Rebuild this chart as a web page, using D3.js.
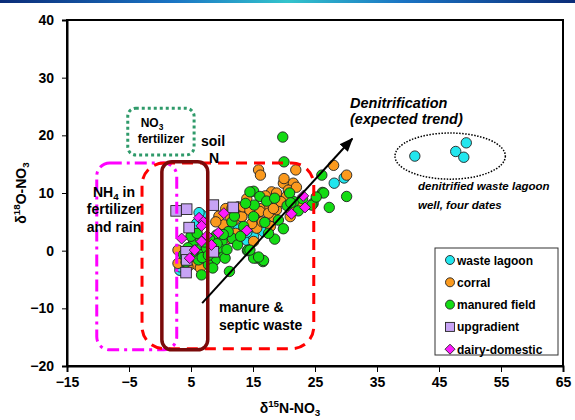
<!DOCTYPE html>
<html><head><meta charset="utf-8">
<script src="https://cdn.jsdelivr.net/npm/d3@7"></script>
<style>body{margin:0;background:#fff;} svg{display:block;font-family:"Liberation Sans",Arial,sans-serif;}</style>
</head><body><svg id="c" width="575" height="420"></svg>
<script>
const xTicks=[-15,-5,5,15,25,35,45,55,65];
const yTicks=[-20,-10,0,10,20,30,40];
const seriesNames=["waste lagoon","corral","manured field","upgradient","dairy-domestic"];
const seriesColors=["#22e6ee","#fb9a1e","#14dc14","#c7a3f5","#ff1aff"];
const seriesShapes=["circle","circle","circle","square","diamond"];

const wasteLagoon=[[41.1,16.4],[47.7,17.2],[49.4,18.7],[49.0,16.2],
 [28.1,11.7],[29.7,12.6],[14.8,2.7],[14.0,1.8],[15.1,2.4],[16.7,3.9],[16.7,3.3],[11.8,3.6],
 [6.7,6.2],[6.3,6.6],[13.2,5.9],[14.0,3.2],[3.2,-3.4],[3.2,-2.8],[5.9,4.7],[12.5,4.5]];
const corral=[[15.9,14.0],[16.2,13.1],[21.9,14.0],[28.0,14.8],[30.1,13.1],[19.9,11.7],[21.5,11.7],
 [20.7,10.5],[20.4,9.4],[18.0,10.2],[18.8,10.0],[17.5,7.6],[16.1,7.3],[12.9,7.0],[12.0,5.3],
 [18.3,5.9],[15.6,3.9],[11.3,2.1],[2.9,-2.2],[5.9,-2.4],[10.6,7.3],[11.6,7.3],[12.6,7.6],
 [11.3,5.9],[13.2,5.9],[18.8,7.1],[13.4,7.6],[14.5,7.0],[16.1,6.8],[17.5,6.5],[18.3,7.3],
 [15.3,5.6],[14.8,4.7],[15.1,1.6],[21.0,5.9],[21.2,6.8],[2.9,0.1],[19.5,8.5],[17.0,9.5],
 [22.0,11.0],[20.0,12.5],[14.0,9.0],[13.5,3.5],[16.5,5.0],[17.8,4.2],[12.2,3.0],[10.2,4.5],
 [9.5,6.0],[8.2,-1.5],[6.5,-3.0],[4.5,-2.8],[7.5,0.5],[9.0,5.0],[22.6,8.5]];
const manuredField=[[19.8,19.7],[20.0,15.4],[26.1,13.1],[26.2,10.1],[27.3,7.5],[24.7,8.2],[21.6,8.5],
 [18.5,2.0],[15.6,-1.3],[16.6,-1.9],[14.1,0.0],[11.2,-3.6],[6.7,-4.2],[15.1,10.3],[16.1,9.4],
 [15.2,7.9],[20.9,10.0],[22.3,6.9],[24.5,7.9],[26.4,10.0],[30.1,9.4],[15.1,5.9],[16.9,4.9],
 [19.1,5.3],[14.2,0.1],[15.1,-1.3],[16.7,-1.7],[14.5,10.2],[11.6,5.0],[11.7,2.1],[14.5,0.1],
 [15.9,-1.1],[10.0,1.6],[9.7,-0.5],[8.5,0.8],[8.9,-1.6],[5.4,1.4],[5.9,0.1],[7.0,-0.5],
 [4.8,-1.1],[6.2,-1.6],[7.5,0.4],[9.1,2.7],[6.5,2.1],[10.5,-1.3],[7.8,-2.4],[11.0,3.3],
 [3.8,-0.7],[4.5,0.5],[5.0,2.5],[6.0,3.0],[7.2,1.5],[8.0,2.0],[8.8,-0.2],[9.5,0.5],[10.8,0.2],
 [6.8,-1.2],[5.2,-0.3],[7.8,-0.8],[9.2,1.2],[10.2,2.8],[12.5,1.0],[13.0,2.5],[12.0,6.0],
 [13.8,8.2],[17.5,3.0],[19.9,3.8],[20.5,7.8],[23.0,9.0],[25.2,9.3],[17.2,8.6],[18.5,9.1],
 [13.5,4.2],[4.2,-2.0],[8.5,-3.0],[21.1,8.3]];
const upgradient=[[2.6,6.9],[4.3,7.2],[8.6,7.9],[11.8,7.5],[4.7,4.0],[4.2,-0.2],[4.3,-1.6],[4.2,-3.8],[8.6,-0.2]];
const dairyDomestic=[[6.3,5.7],[7.0,5.0],[6.7,4.3],[3.5,2.1],[9.4,3.1],[6.7,1.6],[5.6,0.1],[4.8,-1.3],
 [8.3,1.0],[10.3,6.5],[14.0,3.5],[23.1,9.5],[23.4,7.5],[21.2,6.4],[7.6,2.6]];
const seriesData=[wasteLagoon,corral,manuredField,upgradient,dairyDomestic];

// annotation regions in data units: [x0,y0,x1,y1]
const no3Box=[-5.2,24.7,5.5,16.6];
const nh4Box=[-10.2,15.2,2.7,-17.2];
const manureBox=[-2.9,15.2,24.8,-17.0];
const soilBox=[0.3,15.4,7.7,-17.2];
const trend=[[6.8,-9.1],[31.0,19.4]];
const lagoonEllipse=[46.8,16.4,8.9,4.0]; // cx, cy, rx, ry

const svg=d3.select("#c");
const x=d3.scaleLinear().domain([-15,65]).range([67,563]);
const y=d3.scaleLinear().domain([-20,40]).range([366,20]);

// top header strip
const defs=svg.append("defs");
const g=defs.append("linearGradient").attr("id","hdr");
[[0,"#0b2c78"],[0.3,"#1a74c4"],[0.5,"#33c4cc"],[0.7,"#1a74c4"],[1,"#0b2c78"]].forEach(s=>g.append("stop").attr("offset",s[0]).attr("stop-color",s[1]));
svg.append("rect").attr("x",0).attr("y",0).attr("width",575).attr("height",3).attr("fill","url(#hdr)");

defs.append("marker").attr("id","arr").attr("viewBox","0 0 10 10").attr("refX",9).attr("refY",5)
 .attr("markerWidth",7).attr("markerHeight",7).attr("orient","auto")
 .append("path").attr("d","M0,1 L10,5 L0,9 Z").attr("fill","#000");

// plot frame
svg.append("rect").attr("x",x(-15)).attr("y",y(40)).attr("width",x(65)-x(-15)).attr("height",y(-20)-y(40))
 .attr("fill","none").attr("stroke","#000").attr("stroke-width",2);

const ax=svg.append("g").attr("transform",`translate(0,${y(-20)})`)
 .call(d3.axisBottom(x).tickValues(xTicks).tickSize(6).tickPadding(5).tickFormat(d3.format("d")));
const ay=svg.append("g").attr("transform",`translate(${x(-15)},0)`)
 .call(d3.axisLeft(y).tickValues(yTicks).tickSize(5).tickPadding(8).tickFormat(d3.format("d")));
[ax,ay].forEach(a=>{a.select(".domain").attr("stroke","#000").attr("stroke-width",2);
 a.selectAll(".tick line").attr("stroke","#000").attr("stroke-width",1);
 a.selectAll("text").attr("font-size",14).attr("font-weight","bold").attr("fill","#000")
  .style("font-family","'Liberation Sans',Arial,sans-serif");});

// points
function drawSym(sel,shape,color){
 if(shape==="circle") sel.append("circle").attr("r",5.2);
 else if(shape==="square") sel.append("rect").attr("x",-5.3).attr("y",-5.3).attr("width",10.6).attr("height",10.6);
 else sel.append("path").attr("d","M0,-5.5 L5.5,0 L0,5.5 L-5.5,0 Z");
 sel.selectAll("*").attr("fill",color).attr("stroke","#222").attr("stroke-width",0.9);
}
seriesData.forEach((arr,i)=>{
 svg.append("g").selectAll("g").data(arr).join("g")
  .attr("transform",d=>`translate(${x(d[0])},${y(d[1])})`)
  .each(function(){drawSym(d3.select(this),seriesShapes[i],seriesColors[i]);});
});

// annotation shapes
function rbox(b,r,stroke,w,dash){
 svg.append("rect").attr("x",x(b[0])).attr("y",y(b[1])).attr("width",x(b[2])-x(b[0])).attr("height",y(b[3])-y(b[1]))
  .attr("rx",r).attr("fill","none").attr("stroke",stroke).attr("stroke-width",w).attr("stroke-dasharray",dash);
}
rbox(nh4Box,13,"#ff00ff",3,"12,5,3,5");
rbox(manureBox,22,"#ff0000",3,"11,7");
rbox(soilBox,10,"#7a0a0a",3.5,null);
rbox(no3Box,8,"#2f9a6a",3,"3,3");

svg.append("ellipse").attr("cx",x(lagoonEllipse[0])).attr("cy",y(lagoonEllipse[1]))
 .attr("rx",x(lagoonEllipse[0]+lagoonEllipse[2])-x(lagoonEllipse[0]))
 .attr("ry",y(lagoonEllipse[1]-lagoonEllipse[3])-y(lagoonEllipse[1]))
 .attr("fill","none").attr("stroke","#000").attr("stroke-width",1.5).attr("stroke-dasharray","1.5,1.5");

svg.append("line").attr("x1",x(trend[0][0])).attr("y1",y(trend[0][1])).attr("x2",x(trend[1][0])).attr("y2",y(trend[1][1]))
 .attr("stroke","#000").attr("stroke-width",2).attr("marker-end","url(#arr)");

// texts
function txt(tx,ty,s,opt={}){
 const t=svg.append("text").attr("x",tx).attr("y",ty).attr("font-size",opt.size||14).attr("font-weight","bold")
  .attr("font-style",opt.italic?"italic":"normal").attr("text-anchor",opt.anchor||"start").attr("fill","#000");
 if(Array.isArray(s)) s.forEach(p=>{const ts=t.append("tspan").text(p[0]);
   if(p[1]==="sub") ts.attr("font-size",(opt.size||14)*0.7).attr("dy",3);
   else if(p[1]==="sup") ts.attr("font-size",(opt.size||14)*0.7).attr("dy",-6);
   else if(p[1]==="back") ts.attr("dy",-3);
   else if(p[1]==="down") ts.attr("dy",6);});
 else t.text(s);
 return t;
}
txt(152,127,[["NO"],["3","sub"]],{size:12,anchor:"middle"});
txt(161,143,"fertilizer",{size:12,anchor:"middle"});
txt(213,146,"soil",{anchor:"middle"});
txt(214,163,"N",{anchor:"middle"});
txt(114,197,[["NH"],["4","sub"],[" in","back"]],{anchor:"middle"});
txt(114,214,"fertilizer",{anchor:"middle"});
txt(114,232,"and rain",{anchor:"middle"});
txt(219,312,"manure &");
txt(219,330,"septic waste");
txt(350,108,"Denitrification",{size:14.5,italic:true});
txt(350,124,"(expected trend)",{size:14.5,italic:true});
txt(418,190,"denitrified waste lagoon",{size:11.5,italic:true});
txt(418,209,"well, four dates",{size:11.5,italic:true});

// axis titles
txt(290,413,[["δ"],["15","sup"],["N-NO","down"],["3","sub"]],{anchor:"middle"});
txt(0,0,[["δ"],["18","sup"],["O-NO","down"],["3","sub"]],{anchor:"middle"}).attr("transform","translate(26,193) rotate(-90)");

// legend
const lg=svg.append("g").attr("transform","translate(435,248)");
lg.append("rect").attr("width",123).attr("height",107).attr("fill","#fff").attr("stroke","#333").attr("stroke-width",1);
seriesNames.forEach((n,i)=>{
 const row=lg.append("g").attr("transform",`translate(15,${12+i*22.3})`);
 drawSym(row,seriesShapes[i],seriesColors[i]);
 row.select("circle").attr("r",4.5);
 row.select("rect").attr("x",-4.5).attr("y",-4.5).attr("width",9).attr("height",9);
 row.select("path").attr("d","M0,-5 L5,0 L0,5 L-5,0 Z");
 row.append("text").attr("x",7).attr("y",4.5).attr("font-size",12).attr("font-weight","bold").text(n);
});
</script></body></html>
